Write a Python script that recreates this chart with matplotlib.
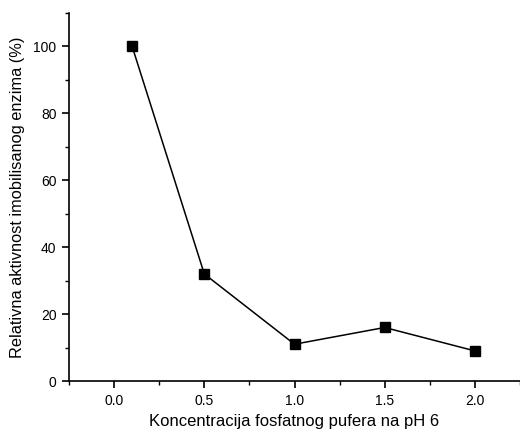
import matplotlib.pyplot as plt
from matplotlib.ticker import MultipleLocator

plt.rcParams['font.family'] = ['Liberation Sans', 'DejaVu Sans']

# concentration of phosphate buffer and relative activity
koncentracija = [0.1, 0.5, 1.0, 1.5, 2.0]
aktivnost = [100, 32, 11, 16, 9]

fig = plt.figure(figsize=(5.2, 4.32), dpi=100)
ax = fig.add_axes([0.1327, 0.118, 0.8673, 0.852])

ax.plot(koncentracija, aktivnost, color='black', linewidth=1.1,
        marker='s', markersize=6.5, markerfacecolor='black', markeredgecolor='black')

ax.set_xlim(-0.25, 2.25)
ax.set_ylim(0, 110)
ax.xaxis.set_major_locator(MultipleLocator(0.5))
ax.xaxis.set_minor_locator(MultipleLocator(0.25))
ax.yaxis.set_major_locator(MultipleLocator(20))
ax.yaxis.set_minor_locator(MultipleLocator(10))
ax.xaxis.set_major_formatter(plt.FuncFormatter(lambda v, p: f'{v:.1f}'))

for s in ['top', 'right']:
    ax.spines[s].set_visible(False)
for s in ['left', 'bottom']:
    ax.spines[s].set_linewidth(1.2)

ax.tick_params(which='major', direction='out', length=5, width=1.2, labelsize=10, pad=4)
ax.tick_params(which='minor', direction='out', length=3, width=1.0)

ax.set_xlabel('Koncentracija fosfatnog pufera na pH 6', fontsize=12, labelpad=5)
ax.set_ylabel('Relativna aktivnost imobilisanog enzima (%)', fontsize=11.8, labelpad=6)

fig.savefig('out.png', dpi=100)
